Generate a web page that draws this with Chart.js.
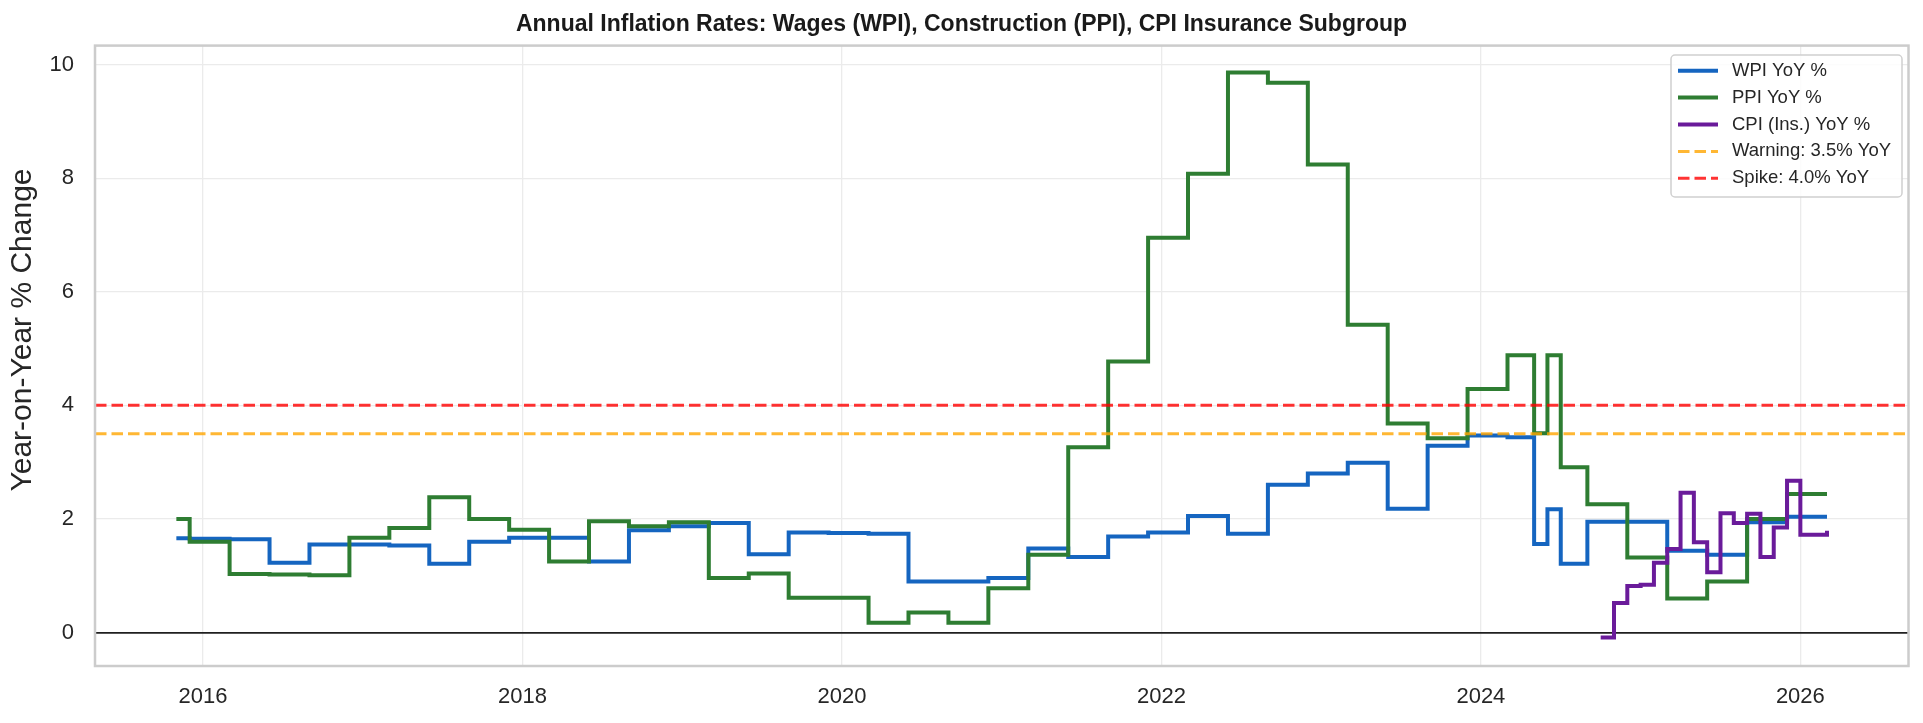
<!DOCTYPE html>
<html>
<head>
<meta charset="utf-8">
<script src="https://cdn.jsdelivr.net/npm/chart.js@4.4.0/dist/chart.umd.min.js"></script>
<style>
    html, body { margin: 0; padding: 0; background: #ffffff; }
    #wrap { width: 1923px; height: 723px; }
</style>
</head>
<body>
<div id="wrap"><canvas id="chart" width="1923" height="723"></canvas></div>
<script>
// Month of each change (series are forward-filled, drawn as steps)
const dates = [
    '2015-11', '2015-12', '2016-03', '2016-06', '2016-09', '2016-12', '2017-03', '2017-06',
    '2017-09', '2017-12', '2018-03', '2018-06', '2018-09', '2018-12', '2019-03', '2019-06',
    '2019-09', '2019-12', '2020-03', '2020-06', '2020-09', '2020-12', '2021-03', '2021-06',
    '2021-09', '2021-12', '2022-03', '2022-06', '2022-09', '2022-12', '2023-03', '2023-06',
    '2023-09', '2023-12', '2024-03', '2024-05', '2024-06', '2024-07', '2024-09', '2024-12',
    '2025-03', '2025-06', '2025-09', '2025-12', '2026-03'
];
const wpiValues = [
    1.66, 1.65, 1.64, 1.23, 1.55, 1.55, 1.53, 1.21,
    1.60, 1.67, 1.67, 1.25, 1.80, 1.87, 1.93, 1.38,
    1.76, 1.75, 1.74, 0.90, 0.90, 0.96, 1.48, 1.33,
    1.69, 1.76, 2.05, 1.74, 2.60, 2.80, 2.99, 2.18,
    3.29, 3.47, 3.44, 1.56, 2.17, 1.21, 1.95, 1.95,
    1.44, 1.37, 1.94, 2.04, 2.04
];
const ppiValues = [
    2.00, 1.60, 1.03, 1.02, 1.01, 1.67, 1.84, 2.38,
    2.00, 1.81, 1.25, 1.96, 1.87, 1.94, 0.96, 1.04,
    0.61, 0.61, 0.17, 0.35, 0.17, 0.78, 1.37, 3.26,
    4.77, 6.95, 8.08, 9.86, 9.68, 8.24, 5.42, 3.68,
    3.42, 4.29, 4.88, 3.51, 4.88, 2.91, 2.26, 1.32,
    0.60, 0.90, 2.00, 2.44, 2.44
];
const cpiDates = [
    '2024-10', '2024-11', '2024-12', '2025-01', '2025-02', '2025-03', '2025-04', '2025-05', '2025-06',
    '2025-07', '2025-08', '2025-09', '2025-10', '2025-11', '2025-12', '2026-01', '2026-02', '2026-03'
];
const cpiValues = [
    -0.09, 0.52, 0.82, 0.84, 1.23, 1.47, 2.46, 1.59, 1.06,
    2.10, 1.93, 2.09, 1.33, 1.85, 2.67, 1.72, 1.72, 1.79
];
const warningLevel = 3.5;
const spikeLevel = 4.0;
const xTicks = [2016, 2018, 2020, 2022, 2024, 2026];
const yTicks = [0, 2, 4, 6, 8, 10];

const X_MIN = 2015.324, X_MAX = 2026.677;
const Y_MIN = -0.59, Y_MAX = 10.335;
const FONT = "'Liberation Sans', Arial, Helvetica, sans-serif";
const TEXT = '#262626';

function toYear(d) {
    const [y, m] = d.split('-').map(Number);
    return y + (m - 1) / 12;
}
function toPoints(ds, vs) {
    return ds.map((d, i) => ({ x: toYear(d), y: vs[i] }));
}
function levelLine(v) {
    return [{ x: X_MIN, y: v }, { x: X_MAX, y: v }];
}

// Frame (all four spines), title and y axis label
const framePlugin = {
    id: 'frame',
    afterDatasetsDraw(chart) {
        const { ctx, chartArea: a } = chart;
        ctx.save();
        ctx.strokeStyle = '#cccccc';
        ctx.lineWidth = 2.5;
        ctx.strokeRect(a.left, a.top, a.right - a.left, a.bottom - a.top);
        ctx.restore();
    },
    afterDraw(chart) {
        const ctx = chart.ctx;
        ctx.save();
        ctx.fillStyle = '#1a1a1a';
        ctx.font = 'bold 23px ' + FONT;
        ctx.textAlign = 'center';
        ctx.textBaseline = 'middle';
        ctx.fillText('Annual Inflation Rates: Wages (WPI), Construction (PPI), CPI Insurance Subgroup',
            chart.width / 2, 24.5);
        ctx.translate(23, 330);
        ctx.rotate(-Math.PI / 2);
        ctx.fillStyle = TEXT;
        ctx.font = '30px ' + FONT;
        ctx.fillText('Year-on-Year % Change', 0, 0);
        ctx.restore();
    }
};

// matplotlib-style legend in the upper right of the axes
const legendPlugin = {
    id: 'boxLegend',
    afterDraw(chart) {
        const ctx = chart.ctx;
        const box = { x: 1671, y: 55, w: 231, h: 142 };
        ctx.save();
        ctx.fillStyle = 'rgba(255,255,255,0.85)';
        ctx.strokeStyle = '#d0d0d0';
        ctx.lineWidth = 1.5;
        ctx.beginPath();
        ctx.roundRect(box.x, box.y, box.w, box.h, 4);
        ctx.fill();
        ctx.stroke();
        ctx.font = '18.5px ' + FONT;
        ctx.textBaseline = 'middle';
        chart.data.datasets.forEach((ds, i) => {
            const y = 70.7 + i * 26.9;
            ctx.strokeStyle = ds.borderColor;
            ctx.lineWidth = ds.borderWidth;
            ctx.setLineDash(ds.borderDash || []);
            ctx.beginPath();
            ctx.moveTo(1678, y);
            ctx.lineTo(1718, y);
            ctx.stroke();
            ctx.setLineDash([]);
            ctx.fillStyle = TEXT;
            ctx.fillText(ds.label, 1732, y);
        });
        ctx.restore();
    }
};

Chart.defaults.font.family = FONT;

const ctx = document.getElementById('chart').getContext('2d');
const chart = new Chart(ctx, {
    type: 'line',
    data: {
        datasets: [
            { label: 'WPI YoY %', data: toPoints(dates, wpiValues), borderColor: '#1565c0',
              borderWidth: 4, stepped: 'before', order: 5 },
            { label: 'PPI YoY %', data: toPoints(dates, ppiValues), borderColor: '#2e7d32',
              borderWidth: 4, stepped: 'before', order: 4 },
            { label: 'CPI (Ins.) YoY %', data: toPoints(cpiDates, cpiValues), borderColor: '#6a1b9a',
              borderWidth: 4, stepped: 'before', order: 3 },
            { label: 'Warning: 3.5% YoY', data: levelLine(warningLevel), borderColor: 'rgba(255,165,0,0.8)',
              borderWidth: 3, borderDash: [11.5, 5], order: 2 },
            { label: 'Spike: 4.0% YoY', data: levelLine(spikeLevel), borderColor: 'rgba(255,0,0,0.8)',
              borderWidth: 3, borderDash: [11.5, 5], order: 1 }
        ]
    },
    options: {
        responsive: false,
        animation: false,
        devicePixelRatio: 1,
        layout: { padding: { top: 45.6, right: 14.5, bottom: 0, left: 0 } },
        elements: {
            point: { radius: 0, hoverRadius: 0 },
            line: { tension: 0, borderCapStyle: 'butt', borderJoinStyle: 'miter' }
        },
        plugins: {
            legend: { display: false },
            title: { display: false },
            tooltip: { enabled: false }
        },
        scales: {
            x: {
                type: 'linear',
                min: X_MIN,
                max: X_MAX,
                afterBuildTicks(scale) { scale.ticks = xTicks.map(v => ({ value: v })); },
                afterFit(scale) { scale.height = 57; },
                ticks: {
                    color: TEXT,
                    font: { size: 22 },
                    padding: 17.4,
                    maxRotation: 0,
                    callback: v => String(v)
                },
                grid: { color: '#ebebeb', lineWidth: 1.3, drawTicks: false },
                border: { display: false }
            },
            y: {
                type: 'linear',
                min: Y_MIN,
                max: Y_MAX,
                afterBuildTicks(scale) { scale.ticks = yTicks.map(v => ({ value: v })); },
                afterFit(scale) { scale.width = 95; },
                ticks: {
                    color: TEXT,
                    font: { size: 22 },
                    padding: 21,
                    callback: v => String(v)
                },
                grid: {
                    color: c => (c.tick && c.tick.value === 0) ? '#1f1f1f' : '#ebebeb',
                    lineWidth: c => (c.tick && c.tick.value === 0) ? 1.8 : 1.3,
                    drawTicks: false
                },
                border: { display: false }
            }
        }
    },
    plugins: [framePlugin, legendPlugin]
});
</script>
</body>
</html>
